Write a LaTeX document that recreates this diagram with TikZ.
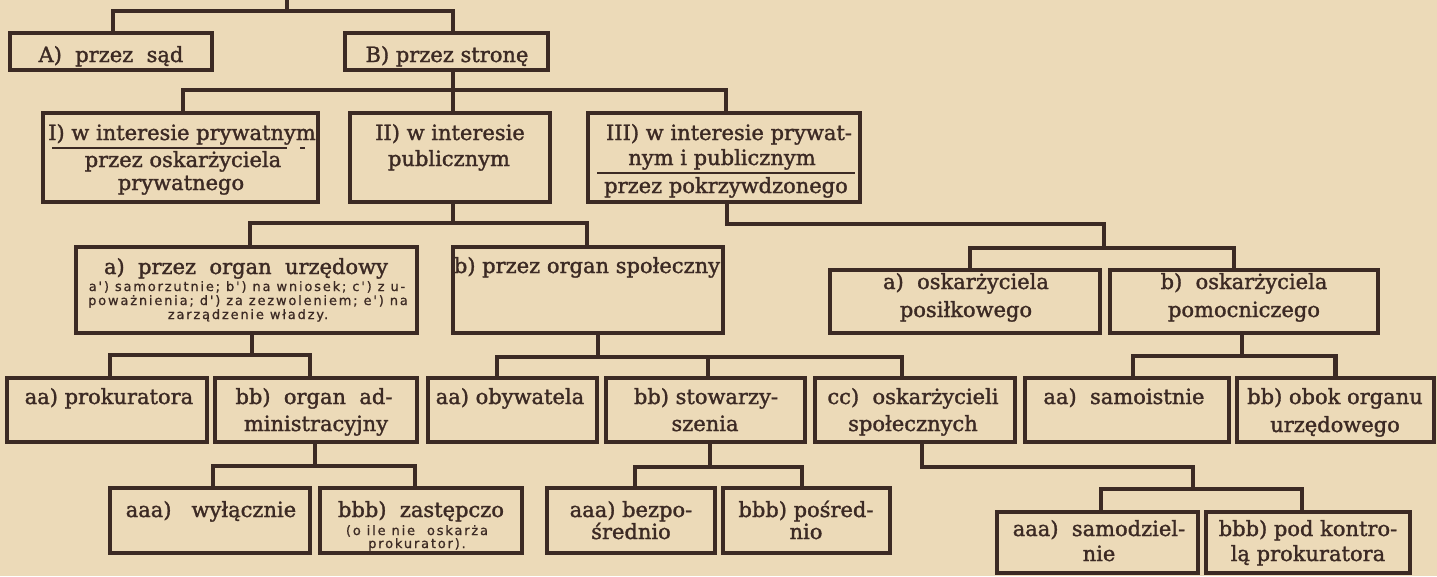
\documentclass[tikz,border=0pt]{standalone}
\usepackage{fontspec}
\setmainfont{DejaVu Serif}[FakeBold=1.5]
\newfontfamily\smallsans[LetterSpace=14,FakeBold=0.8]{DejaVu Sans}
\usetikzlibrary{fit}
\definecolor{paper}{RGB}{236,218,184}
\definecolor{ink}{RGB}{60,42,36}
\newcommand\Bx[5]{\coordinate (#1-a) at (#2,#3); \coordinate (#1-b) at (#4,#5); \node[boxsty, fit=(#1-a)(#1-b)] (#1) {};}
\newcommand\Tx[4]{\node[txt] (#1) at (#2,#3) {#4};}
\newcommand\Sx[4]{\node[smalltxt] (#1) at (#2,#3) {#4};}
\begin{document}
\begin{tikzpicture}[x=1pt,y=-1pt,
  boxsty/.style={draw=ink, line width=4.5pt, inner sep=0pt, outer sep=0pt},
  conn/.style={draw=ink, line width=4.5pt, line join=miter},
  txt/.style={anchor=base, inner sep=0pt, text=ink, font=\fontsize{21}{25}\selectfont},
  smalltxt/.style={anchor=base, inner sep=0pt, text=ink, font=\smallsans\fontsize{13}{14}\selectfont},
  rulesty/.style={draw=ink, line width=1.6pt}]
\useasboundingbox (0,0) rectangle (1437,576);
\fill[paper] (0,0) rectangle (1437,576);
% boxes
\Bx{A}{10}{33}{212}{70}
\Bx{B}{345}{33}{548}{70}
\Bx{I}{43}{113}{318}{202}
\Bx{II}{350}{113}{550}{202}
\Bx{III}{588}{113}{860}{202}
\Bx{aU}{76}{247}{417}{333}
\Bx{bS}{453}{247}{723}{333}
\Bx{aP}{830}{270}{1100}{333}
\Bx{bP}{1110}{270}{1378}{333}
\Bx{aaP}{7}{378}{207}{442}
\Bx{bbA}{215}{378}{417}{442}
\Bx{aaO}{428}{378}{597}{442}
\Bx{bbS}{606}{378}{805}{442}
\Bx{ccO}{815}{378}{1015}{442}
\Bx{aaS}{1025}{378}{1229}{442}
\Bx{bbO}{1237}{378}{1434}{442}
\Bx{aaaW}{110}{488}{310}{553}
\Bx{bbbZ}{320}{488}{522}{553}
\Bx{aaaB}{547}{488}{715}{553}
\Bx{bbbP}{723}{488}{890}{553}
\Bx{aaaS}{997}{512}{1198}{573}
\Bx{bbbK}{1206}{512}{1410}{573}
% rules inside I and III
\draw[rulesty] (52,148) -- (287,148);
\draw[rulesty] (300,148) -- (305,148);
\draw[rulesty] (597,173) -- (855,173);
% texts
\Tx{tA}{111}{62}{A)~~przez~~sąd}
\Tx{tB}{447}{62}{B) przez stronę}
\Tx{tI1}{182}{140}{I) w interesie prywatnym}
\Tx{tI2}{183}{167}{przez oskarżyciela}
\Tx{tI3}{181}{190}{prywatnego}
\Tx{tII1}{450}{140}{II) w interesie}
\Tx{tII2}{449}{166}{publicznym}
\Tx{tIII1}{729}{140}{III) w interesie prywat-}
\Tx{tIII2}{722}{165}{nym i publicznym}
\Tx{tIII3}{726}{193}{przez pokrzywdzonego}
\Tx{taU}{246}{274}{a)~~przez~~organ~~urzędowy}
\Sx{saU1}{247}{291}{a') samorzutnie; b') na wniosek; c') z u-}
\Sx{saU2}{248}{305}{poważnienia; d') za zezwoleniem; e') na}
\Sx{saU3}{248}{319}{zarządzenie władzy.}
\Tx{tbS}{587}{273}{b) przez organ społeczny}
\Tx{taP1}{966}{289}{a)~~oskarżyciela}
\Tx{taP2}{966}{317}{posiłkowego}
\Tx{tbP1}{1244}{289}{b)~~oskarżyciela}
\Tx{tbP2}{1244}{317}{pomocniczego}
\Tx{taaP}{109}{404}{aa) prokuratora}
\Tx{tbbA1}{314}{404}{bb)~~organ~~ad-}
\Tx{tbbA2}{316}{431}{ministracyjny}
\Tx{taaO}{510}{404}{aa) obywatela}
\Tx{tbbS1}{706}{404}{bb) stowarzy-}
\Tx{tbbS2}{705}{431}{szenia}
\Tx{tccO1}{913}{404}{cc)~~oskarżycieli}
\Tx{tccO2}{913}{431}{społecznych}
\Tx{taaS}{1124}{404}{aa)~~samoistnie}
\Tx{tbbO1}{1335}{404}{bb) obok organu}
\Tx{tbbO2}{1335}{432}{urzędowego}
\Tx{taaaW}{211}{517}{aaa)~~~wyłącznie}
\Tx{tbbbZ}{421}{517}{bbb)~~zastępczo}
\Sx{sbbbZ1}{417}{535}{(o ile nie~~oskarża}
\Sx{sbbbZ2}{417}{548}{prokurator).}
\Tx{taaaB1}{631}{517}{aaa) bezpo-}
\Tx{taaaB2}{631}{539}{średnio}
\Tx{tbbbP1}{806}{517}{bbb) pośred-}
\Tx{tbbbP2}{806}{539}{nio}
\Tx{taaaS1}{1099}{536}{aaa)~~samodziel-}
\Tx{taaaS2}{1099}{561}{nie}
\Tx{tbbbK1}{1308}{536}{bbb) pod kontro-}
\Tx{tbbbK2}{1308}{561}{lą prokuratora}
% connectors
\coordinate (r0) at (287,-3);
\coordinate (r1) at (287,11);
\draw[conn] (r0) -- (r1);
\draw[conn] ([xshift=2pt]A.north) |- (r1) -| ([xshift=6.5pt]B.north);
\draw[conn] ([xshift=6.5pt]B.south) -- ++(0,20) coordinate (j2);
\draw[conn] ([xshift=2.5pt]I.north) |- (j2) -| ([xshift=2pt]III.north);
\draw[conn] (j2) -- (j2 |- II.north);
\draw[conn] ([xshift=3pt]II.south) -- ++(0,21) coordinate (j3);
\draw[conn] ([xshift=3.5pt]aU.north) |- (j3) -| ([xshift=-1pt]bS.north);
\coordinate (k4) at (1104,224);
\coordinate (j4) at (1104,248);
\draw[conn] ([xshift=3pt]III.south) |- (k4) -- (j4);
\draw[conn] ([xshift=5pt]aP.north) |- (j4) -| ([xshift=-10pt]bP.north);
\draw[conn] ([xshift=5.5pt]aU.south) -- ++(0,22) coordinate (j5);
\draw[conn] ([xshift=3pt]aaP.north) |- (j5) -| ([xshift=-6pt]bbA.north);
\draw[conn] ([xshift=10pt]bS.south) -- ++(0,24) coordinate (j6);
\draw[conn] ([xshift=-15.5pt]aaO.north) |- (j6) -| ([xshift=-13pt]ccO.north);
\draw[conn] ([xshift=2.5pt]bbS.north) -- ([xshift=2.5pt]bbS.north |- j6);
\draw[conn] ([xshift=-2pt]bP.south) -- ++(0,23) coordinate (j7);
\draw[conn] ([xshift=6pt]aaS.north) |- (j7) -| (bbO.north);
\draw[conn] ([xshift=-1pt]bbA.south) -- ++(0,24) coordinate (j8);
\draw[conn] ([xshift=3pt]aaaW.north) |- (j8) -| ([xshift=-6pt]bbbZ.north);
\draw[conn] ([xshift=4.5pt]bbS.south) -- ++(0,25) coordinate (j9);
\draw[conn] ([xshift=4pt]aaaB.north) |- (j9) -| ([xshift=-4.5pt]bbbP.north);
\coordinate (k10) at (1193,467);
\coordinate (j10) at (1193,489);
\draw[conn] ([xshift=7pt]ccO.south) |- (k10) -- (j10);
\draw[conn] ([xshift=3.5pt]aaaS.north) |- (j10) -| ([xshift=-6pt]bbbK.north);
\end{tikzpicture}
\end{document}
